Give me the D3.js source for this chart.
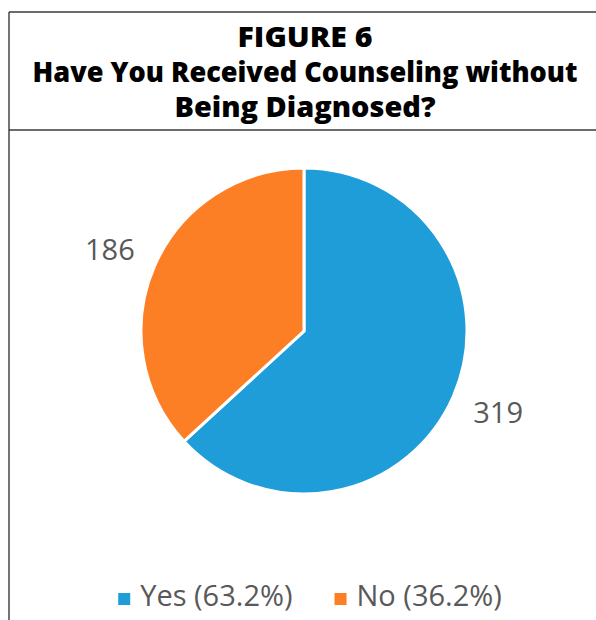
<!DOCTYPE html>
<html>
<head>
<meta charset="utf-8">
<script src="https://cdn.jsdelivr.net/npm/d3@7"></script>
<style>
  html, body { margin: 0; padding: 0; background: #fff; }
  svg { display: block; }
</style>
</head>
<body>
<script>
// ---- data ----
const titleLines = ["FIGURE 6", "Have You Received Counseling without", "Being Diagnosed?"];
const categories = ["Yes", "No"];
const values = [319, 186];
const legendPercents = ["63.2%", "36.2%"];
const colors = ["#1f9dd9", "#fd7f25"];

const W = 596, H = 620;
const svg = d3.select("body").append("svg").attr("width", W).attr("height", H);

// frame
const frame = svg.append("g").attr("stroke", "#3a3a3a").attr("stroke-width", 1.4);
frame.append("line").attr("x1", 9).attr("x2", 9).attr("y1", 12).attr("y2", H + 2);
frame.append("line").attr("x1", 9).attr("x2", W + 2).attr("y1", 12).attr("y2", 12);
frame.append("line").attr("x1", 9).attr("x2", W + 2).attr("y1", 130).attr("y2", 130);

// title
const titleBaselines = [47, 82, 117];
const titleWidths = [135, 545, 261];
svg.append("g").selectAll("text").data(titleLines).join("text")
  .attr("x", 305)
  .attr("y", (d, i) => titleBaselines[i])
  .attr("text-anchor", "middle")
  .attr("font-family", "'Open Sans', 'Noto Sans', sans-serif")
  .attr("font-weight", 800)
  .attr("font-size", 27.5)
  .attr("fill", "#000")
  .attr("textLength", (d, i) => titleWidths[i])
  .attr("lengthAdjust", "spacingAndGlyphs")
  .text(d => d);

// pie
const cx = 304, cy = 331, R = 163;
const pie = d3.pie().sort(null).value(d => d.value);
const arcs = pie(categories.map((c, i) => ({ cat: c, value: values[i] })));
const arc = d3.arc().innerRadius(0).outerRadius(R);
const color = d3.scaleOrdinal().domain(categories).range(colors);

const g = svg.append("g").attr("transform", `translate(${cx},${cy})`);
g.selectAll("path").data(arcs).join("path")
  .attr("d", arc)
  .attr("fill", d => color(d.data.cat))
  .attr("stroke", "#fff")
  .attr("stroke-width", 3)
  .attr("stroke-linejoin", "miter");

// data labels, placed outside along the slice bisector
const labelArc = d3.arc().innerRadius(R + 49).outerRadius(R + 49);
g.selectAll("text.lbl").data(arcs).join("text")
  .attr("class", "lbl")
  .attr("transform", d => {
    const [x, y] = labelArc.centroid(d);
    return `translate(${x},${y})`;
  })
  .attr("text-anchor", "middle")
  .attr("dy", d => (d.index === 0 ? "0.22em" : "0.5em"))
  .attr("font-family", "'Open Sans', 'Noto Sans', sans-serif")
  .attr("font-size", 29)
  .attr("fill", "#595959")
  .text(d => d.data.value);

// legend
const legend = svg.append("g");
const items = legend.selectAll("g").data(categories).join("g");
items.append("rect")
  .attr("width", 12).attr("height", 12)
  .attr("y", 593)
  .attr("fill", d => color(d));
items.append("text")
  .attr("y", 606)
  .attr("font-family", "'Open Sans', 'Noto Sans', sans-serif")
  .attr("font-size", 29)
  .attr("fill", "#595959")
  .text((d, i) => `${d} (${legendPercents[i]})`);

// layout legend items horizontally, centered
let widths = [];
items.select("text").each(function () { widths.push(this.getComputedTextLength()); });
const sq = 12, gapSq = 10, gapItem = 42;
const total = d3.sum(widths.map(w => sq + gapSq + w)) + gapItem * (categories.length - 1);
let xPos = 310 - total / 2;
items.each(function (d, i) {
  const it = d3.select(this);
  it.select("rect").attr("x", xPos);
  it.select("text").attr("x", xPos + sq + gapSq);
  xPos += sq + gapSq + widths[i] + gapItem;
});
</script>
</body>
</html>
